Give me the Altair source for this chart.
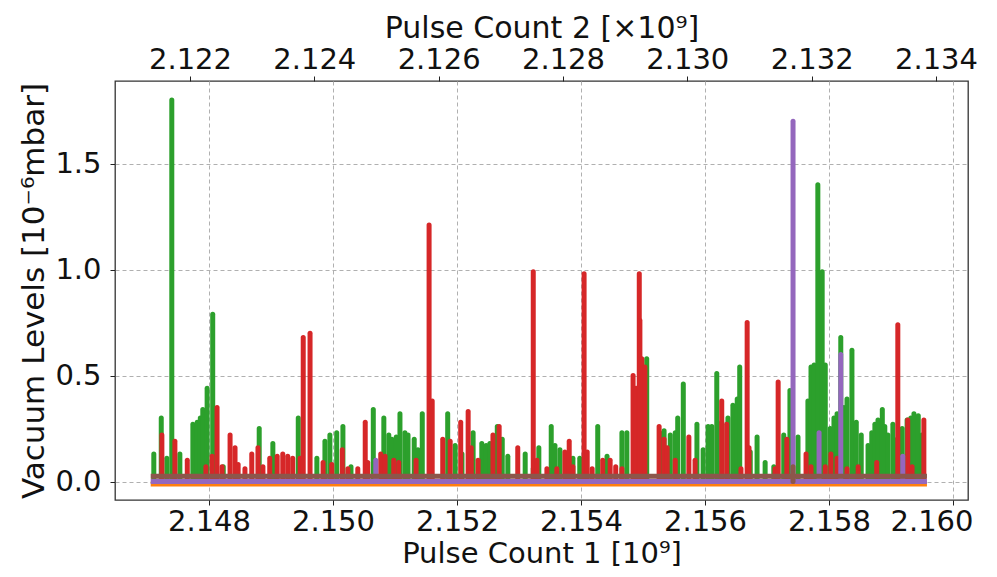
import altair as alt
import pandas as pd

# ---- data (Pulse Count 1 in 1e9, vacuum in 1e-6 mbar) ----
green_x = [2.14711, 2.14723, 2.14732, 2.14740, 2.14753, 2.14774, 2.14781, 2.14786, 2.14790, 2.14797,
           2.14806, 2.14823, 2.14881, 2.14903, 2.14944, 2.14974, 2.14987, 2.14995, 2.15006, 2.15016,
           2.15029, 2.15065, 2.15082, 2.15090, 2.15095, 2.15102, 2.15108, 2.15116, 2.15121, 2.15131,
           2.15137, 2.15144, 2.15185, 2.15197, 2.15208, 2.15226, 2.15240, 2.15247, 2.15253, 2.15265,
           2.15273, 2.15282, 2.15310, 2.15323, 2.15332, 2.15352, 2.15358, 2.15366, 2.15387, 2.15398,
           2.15427, 2.15442, 2.15466, 2.15474, 2.15506, 2.15527, 2.15534, 2.15544, 2.15552, 2.15556,
           2.15565, 2.15587, 2.15597, 2.15605, 2.15611, 2.15619, 2.15627, 2.15637, 2.15645, 2.15652,
           2.15656, 2.15673, 2.15684, 2.15697, 2.15711, 2.15727, 2.15737, 2.15750, 2.15766, 2.15771,
           2.15776, 2.15782, 2.15789, 2.15794, 2.15802, 2.15808, 2.15813, 2.15819, 2.15824, 2.15829,
           2.15837, 2.15844, 2.15852, 2.15863, 2.15869, 2.15874, 2.15879, 2.15886, 2.15890, 2.15895,
           2.15903, 2.15910, 2.15918, 2.15926, 2.15932, 2.15937, 2.15944, 2.15950]
green_v = [0.13, 0.30, 0.11, 1.80, 0.13, 0.27, 0.28, 0.30, 0.34, 0.44,
           0.79, 0.07, 0.25, 0.18, 0.30, 0.11, 0.19, 0.22, 0.23, 0.26,
           0.07, 0.34, 0.30, 0.22, 0.20, 0.21, 0.32, 0.23, 0.22, 0.20,
           0.15, 0.32, 0.32, 0.17, 0.13, 0.23, 0.18, 0.17, 0.18, 0.26,
           0.20, 0.12, 0.13, 0.06, 0.16, 0.26, 0.17, 0.15, 0.11, 0.11,
           0.26, 0.12, 0.23, 0.23, 0.58, 0.23, 0.24, 0.22, 0.23, 0.30,
           0.46, 0.27, 0.15, 0.26, 0.26, 0.51, 0.28, 0.30, 0.36, 0.39,
           0.54, 0.14, 0.21, 0.09, 0.07, 0.22, 0.43, 0.21, 0.38, 0.54,
           0.55, 1.40, 0.99, 0.55, 0.25, 0.30, 0.32, 0.68, 0.35, 0.39,
           0.62, 0.28, 0.22, 0.17, 0.23, 0.27, 0.29, 0.34, 0.26, 0.22,
           0.27, 0.20, 0.25, 0.29, 0.30, 0.32, 0.31, 0.22]

red_x = [2.14724, 2.14745, 2.14765, 2.14795, 2.14805, 2.14813, 2.14821, 2.14834, 2.14842, 2.14847,
         2.14858, 2.14869, 2.14879, 2.14887, 2.14898, 2.14910, 2.14919, 2.14927, 2.14935, 2.14947,
         2.14952, 2.14963, 2.14984, 2.14998, 2.15015, 2.15024, 2.15040, 2.15052, 2.15056, 2.15077,
         2.15084, 2.15098, 2.15106, 2.15134, 2.15155, 2.15160, 2.15177, 2.15189, 2.15206, 2.15218,
         2.15223, 2.15234, 2.15258, 2.15268, 2.15298, 2.15323, 2.15329, 2.15345, 2.15361, 2.15374,
         2.15381, 2.15387, 2.15405, 2.15410, 2.15418, 2.15435, 2.15447, 2.15456, 2.15466, 2.15484,
         2.15489, 2.15494, 2.15495, 2.15498, 2.15503, 2.15526, 2.15534, 2.15539, 2.15552, 2.15574,
         2.15584, 2.15627, 2.15635, 2.15658, 2.15668, 2.15671, 2.15713, 2.15718, 2.15732, 2.15763,
         2.15771, 2.15794, 2.15803, 2.15813, 2.15829, 2.15847, 2.15877, 2.15911, 2.15927, 2.15934,
         2.15953]
red_v = [0.22, 0.19, 0.10, 0.07, 0.12, 0.35, 0.07, 0.22, 0.16, 0.08,
         0.06, 0.13, 0.16, 0.07, 0.11, 0.12, 0.13, 0.12, 0.11, 0.11,
         0.68, 0.70, 0.09, 0.08, 0.15, 0.06, 0.06, 0.28, 0.09, 0.13,
         0.12, 0.10, 0.09, 0.10, 1.21, 0.38, 0.20, 0.19, 0.28, 0.33,
         0.16, 0.10, 0.22, 0.26, 0.16, 0.99, 0.10, 0.06, 0.06, 0.14,
         0.19, 0.07, 0.98, 0.14, 0.06, 0.10, 0.10, 0.07, 0.06, 0.50,
         0.44, 0.98, 0.76, 0.58, 0.54, 0.26, 0.20, 0.16, 0.10, 0.21,
         0.10, 0.38, 0.27, 0.06, 0.75, 0.16, 0.06, 0.47, 0.20, 0.13,
         0.07, 0.07, 0.13, 0.11, 0.06, 0.07, 0.09, 0.74, 0.29, 0.07,
         0.29]

purple_x = [2.15069, 2.15742, 2.15784, 2.15819, 2.15919]
purple_v = [0.10, 1.70, 0.23, 0.60, 0.12]

brown_x = [2.15742]
brown_v = [0.07]

base_series = ["orange", "purple", "brown"]
base_level = [-0.012, 0.0, 0.025]
base_start = [2.14706, 2.14706, 2.14706]
base_end = [2.15958, 2.15958, 2.15958]

x1_ticks = [2.148, 2.150, 2.152, 2.154, 2.156, 2.158, 2.160]
x2_ticks = [2.122, 2.124, 2.126, 2.128, 2.130, 2.132, 2.134]
y_ticks = [0.0, 0.5, 1.0, 1.5]

X1_DOMAIN = [2.146484, 2.160242]
X2_DOMAIN = [2.120794, 2.134515]
Y_DOMAIN = [-0.087, 1.89]

COLORS = {"orange": "#ff7f0e", "green": "#2ca02c", "red": "#d62728",
          "purple": "#9467bd", "brown": "#8c564b"}
FONT = "DejaVu Sans"
LW = 5
LABEL_SIZE = 29
TITLE_SIZE = 30

xscale = alt.Scale(domain=X1_DOMAIN, nice=False, zero=False)
yscale = alt.Scale(domain=Y_DOMAIN, nice=False, zero=False)

x_axis = alt.Axis(values=x1_ticks, format=".3f", title="Pulse Count 1 [10⁹]",
                  grid=True, gridDash=[4, 3], gridColor="#b0b0b0", gridWidth=1,
                  labelFontSize=LABEL_SIZE, titleFontSize=29, tickSize=5, tickColor="#222",
                  labelPadding=2, titlePadding=3, domain=False, labelColor="#111",
                  labelFlush=20, labelFlushOffset=20,
                  titleColor="#111", titleFontWeight="normal", labelFont=FONT, titleFont=FONT)
y_axis = alt.Axis(values=y_ticks, format=".1f", title="Vacuum Levels [10⁻⁶mbar]",
                  grid=True, gridDash=[4, 3], gridColor="#b0b0b0", gridWidth=1,
                  labelFontSize=LABEL_SIZE, titleFontSize=31, tickSize=5, tickColor="#222",
                  labelPadding=9, titlePadding=4, domain=False, labelColor="#111",
                  titleColor="#111", titleFontWeight="normal", labelFont=FONT, titleFont=FONT)


def spikes(xs, vs, color):
    df = pd.DataFrame({"pc1": xs, "v": vs})
    return alt.Chart(df).mark_rule(color=color, strokeWidth=LW, strokeCap="round").encode(
        x=alt.X("pc1:Q", scale=xscale, axis=x_axis),
        y=alt.Y("v:Q", scale=yscale, axis=y_axis),
        y2=alt.datum(0),
    )


base_df = pd.DataFrame({"series": base_series, "level": base_level,
                        "start": base_start, "end": base_end})


def baseline(name):
    return alt.Chart(base_df).transform_filter(alt.datum.series == name).mark_rule(
        color=COLORS[name], strokeWidth=LW, strokeCap="butt").encode(
        x=alt.X("start:Q", scale=xscale, axis=x_axis),
        x2="end:Q",
        y=alt.Y("level:Q", scale=yscale, axis=y_axis),
    )


bottom = alt.layer(
    spikes(green_x, green_v, COLORS["green"]),
    baseline("orange"),
    spikes(red_x, red_v, COLORS["red"]),
    baseline("purple"),
    spikes(purple_x, purple_v, COLORS["purple"]),
    baseline("brown"),
    spikes(brown_x, brown_v, COLORS["brown"]),
)

top_df = pd.DataFrame({"pc2": x2_ticks})
top = alt.Chart(top_df).mark_point(opacity=0).encode(
    x=alt.X("pc2:Q", scale=alt.Scale(domain=X2_DOMAIN, nice=False, zero=False),
            axis=alt.Axis(orient="top", values=x2_ticks, format=".3f",
                          title="Pulse Count 2 [×10⁹]", grid=False,
                          labelFontSize=LABEL_SIZE, titleFontSize=TITLE_SIZE, tickSize=5,
                          tickColor="#222", labelPadding=2, titlePadding=2, domain=False,
                          labelColor="#111", titleColor="#111", titleFontWeight="normal",
                          labelFont=FONT, titleFont=FONT)),
    y=alt.value(0),
)

chart = alt.layer(bottom, top).resolve_scale(x="independent").properties(
    width=853, height=419,
    autosize=alt.AutoSizeParams(type="none"),
    padding={"left": 107, "top": 73, "right": 21, "bottom": 69},
    background="white",
).configure_view(stroke="#333", strokeWidth=1.3)

chart.save("out.html", embed_options={"renderer": "svg", "actions": False})
